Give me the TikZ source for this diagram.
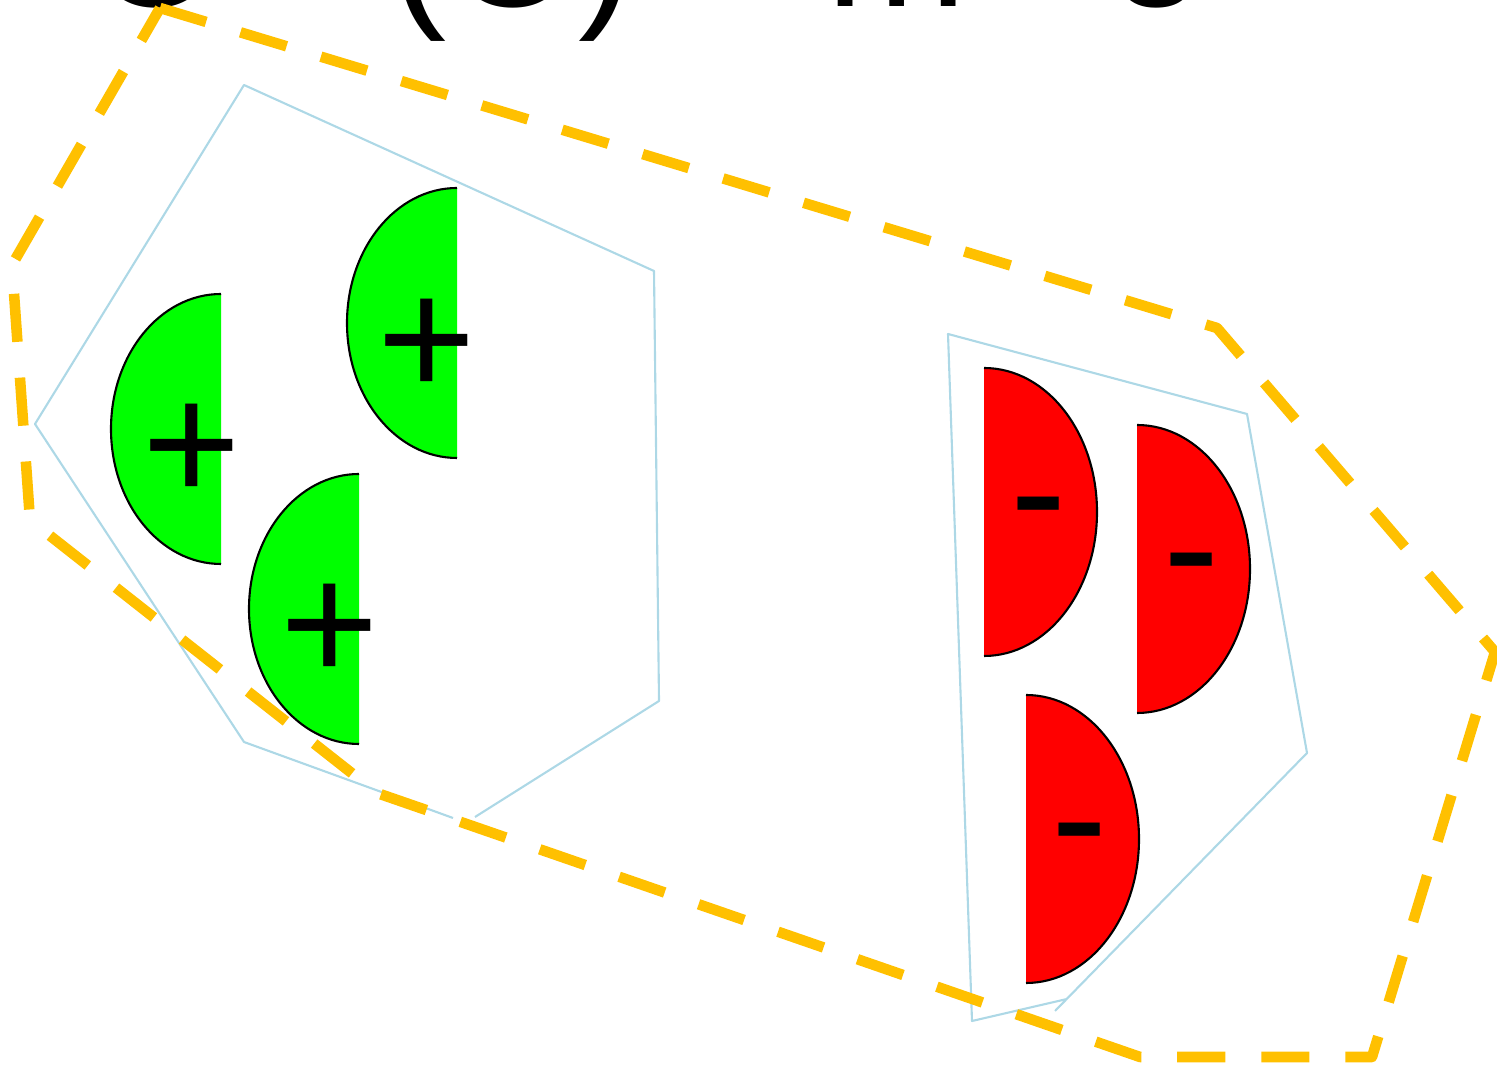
\documentclass[tikz,border=0pt]{standalone}
\usepackage{fontspec}
\setmainfont{Liberation Sans}
\usepackage{tikz}

\definecolor{hullblue}{RGB}{173,216,230}
\definecolor{hullgold}{RGB}{255,192,0}
\definecolor{ionplus}{RGB}{0,255,0}
\definecolor{ionminus}{RGB}{255,0,0}

\begin{document}
\begin{tikzpicture}[x=0.01cm,y=-0.01cm,line join=round]
  \tikzstyle{cluster}=[draw=hullblue,line width=0.6pt]
  \tikzstyle{hull}=[draw=hullgold,line width=3pt,dash pattern=on 13.7pt off 10.2pt]
  \tikzstyle{rim}=[draw=black,line width=0.6pt]
  \tikzstyle{charge}=[inner sep=0pt,anchor=base,font=\fontsize{48}{58}\selectfont]

  \useasboundingbox (0,0) rectangle (1497,1065);

  \node[charge,anchor=base west] (title) at (90,7) {O\quad(O) = m~~~e};

  % the two groups
  \path[cluster] (453,818) -- (244,742) -- (35,424) -- (244,85) -- (654,271) -- (659,701) -- (475,817);
  \path[cluster] (1067,999) -- (972,1021) -- (948,334) -- (1247,414) -- (1307,753) -- (1055,1011);

  % positive halves
  \foreach \cx/\cy in {221/429, 457/323, 359/609} {
    \fill[ionplus] (\cx,\cy-135) arc[start angle=270,end angle=90,x radius=110,y radius=135] -- cycle;
    \path[rim] (\cx,\cy-135) arc[start angle=270,end angle=90,x radius=110,y radius=135];
  }
  % negative halves
  \foreach \cx/\cy in {984/512, 1137/569, 1026/839} {
    \fill[ionminus] (\cx,\cy-144) arc[start angle=-90,end angle=90,x radius=113,y radius=144] -- cycle;
    \path[rim] (\cx,\cy-144) arc[start angle=-90,end angle=90,x radius=113,y radius=144];
  }

  \node[charge] (p1) at (192,502) {+};
  \node[charge] (p2) at (427,397) {+};
  \node[charge] (p3) at (330,682) {+};
  \node[charge] (n1) at (1039,549) {-};
  \node[charge] (n2) at (1192,605) {-};
  \node[charge] (n3) at (1080,875) {-};

  % outer hull
  \path[hull] (160,8) -- (1217,328) -- (1495,652) -- (1372,1057) -- (1140,1057)
    -- (377,793) -- (30,520) -- (12,265) -- cycle;
\end{tikzpicture}
\end{document}
